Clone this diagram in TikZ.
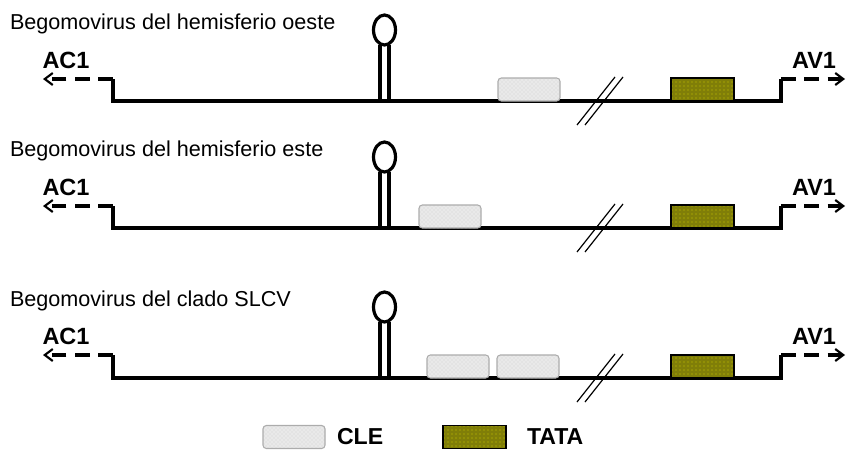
\documentclass[tikz,border=0pt]{standalone}
\usepackage{fontspec}
\setmainfont{Liberation Sans}
\usepackage{tikz}
\usetikzlibrary{arrows.meta,patterns,shapes.geometric}

\definecolor{tataolive}{RGB}{128,126,8}

\begin{document}
\begin{tikzpicture}[x=0.75pt, y=-0.75pt,
    every node/.style={inner sep=0pt, outer sep=0pt},
    genome/.style={line width=2.4pt},
    orf/.style={line width=2.4pt, dash pattern=on 11pt off 6.5pt,
        -{Straight Barb[length=6pt, width=9pt, line width=1.6pt]}},
    stem/.style={line width=2.4pt},
    hairpin/.style={ellipse, draw, line width=2.4pt, minimum width=16.5pt, minimum height=22.5pt},
    brk/.style={line width=0.9pt},
    clebox/.style={draw=gray!65, line width=0.8pt, rounded corners=2.5pt,
        preaction={fill=gray!22}, pattern=crosshatch dots, pattern color=white,
        minimum width=46.5pt, minimum height=17.25pt},
    tatabox/.style={draw=black, line width=0.9pt, preaction={fill=tataolive},
        pattern=dots, pattern color=yellow!60!tataolive,
        minimum width=47.25pt, minimum height=17.25pt},
    title/.style={anchor=base west, font=\fontsize{16.2}{19}\selectfont},
    gene/.style={font=\bfseries\fontsize{17.6}{21}\selectfont},
    key/.style={anchor=west, font=\bfseries\fontsize{17.3}{21}\selectfont}]

    \useasboundingbox (0,0) rectangle (846,450);

    % --- hemisferio oeste
    \node[title] (west) at (10,29) {Begomovirus del hemisferio oeste};
    \coordinate (l1) at (113,101);
    \coordinate (ls1) at (113,79);
    \coordinate (le1) at (43,79);
    \coordinate (r1) at (781,101);
    \coordinate (rs1) at (781,79);
    \coordinate (re1) at (845,79);
    \draw[genome] (ls1) -- (l1) -- (r1) -- (rs1);
    \draw[orf] (ls1) -- (le1);
    \draw[orf] (rs1) -- (re1);
    \node[gene] (ac1) at (66,60) {AC1};
    \node[gene] (av1) at (814,60) {AV1};
    \node[hairpin] (loop1) at (384.5,30) {};
    \draw[stem] ([xshift=-3.4pt]loop1.south) -- ([xshift=-3.4pt]loop1.south |- l1);
    \draw[stem] ([xshift=3.4pt]loop1.south) -- ([xshift=3.4pt]loop1.south |- l1);
    \node[clebox, anchor=south west] (cle1) at (498,101) {};
    \node[tatabox, anchor=south west] (tata1) at (671,101) {};
    \draw[brk] (577,125) -- (615,77);
    \draw[brk] (585,125) -- (623,77);

    % --- hemisferio este
    \node[title] (east) at (10,156) {Begomovirus del hemisferio este};
    \coordinate (l2) at (113,228);
    \coordinate (ls2) at (113,206);
    \coordinate (le2) at (43,206);
    \coordinate (r2) at (781,228);
    \coordinate (rs2) at (781,206);
    \coordinate (re2) at (845,206);
    \draw[genome] (ls2) -- (l2) -- (r2) -- (rs2);
    \draw[orf] (ls2) -- (le2);
    \draw[orf] (rs2) -- (re2);
    \node[gene] (ac2) at (66,187) {AC1};
    \node[gene] (av2) at (814,187) {AV1};
    \node[hairpin] (loop2) at (384.5,157) {};
    \draw[stem] ([xshift=-3.4pt]loop2.south) -- ([xshift=-3.4pt]loop2.south |- l2);
    \draw[stem] ([xshift=3.4pt]loop2.south) -- ([xshift=3.4pt]loop2.south |- l2);
    \node[clebox, anchor=south west] (cle2) at (419,228) {};
    \node[tatabox, anchor=south west] (tata2) at (671,228) {};
    \draw[brk] (577,252) -- (615,204);
    \draw[brk] (585,252) -- (623,204);

    % --- clado SLCV
    \node[title] (slcv) at (10,306) {Begomovirus del clado SLCV};
    \coordinate (l3) at (113,378);
    \coordinate (ls3) at (113,355);
    \coordinate (le3) at (43,355);
    \coordinate (r3) at (781,378);
    \coordinate (rs3) at (781,355);
    \coordinate (re3) at (845,355);
    \draw[genome] (ls3) -- (l3) -- (r3) -- (rs3);
    \draw[orf] (ls3) -- (le3);
    \draw[orf] (rs3) -- (re3);
    \node[gene] (ac3) at (66,336) {AC1};
    \node[gene] (av3) at (814,336) {AV1};
    \node[hairpin] (loop3) at (384.5,307) {};
    \draw[stem] ([xshift=-3.4pt]loop3.south) -- ([xshift=-3.4pt]loop3.south |- l3);
    \draw[stem] ([xshift=3.4pt]loop3.south) -- ([xshift=3.4pt]loop3.south |- l3);
    \node[clebox, anchor=south west] (cle3a) at (427,378) {};
    \node[clebox, anchor=south west] (cle3b) at (497,378) {};
    \node[tatabox, anchor=south west] (tata3) at (671,378) {};
    \draw[brk] (577,402) -- (615,354);
    \draw[brk] (585,402) -- (623,354);

    % --- legend
    \node[clebox, anchor=west] (clekey) at (263,437) {};
    \node[key] (cletext) at (337,437) {CLE};
    \node[tatabox, anchor=west] (tatakey) at (443,437) {};
    \node[key] (tatatext) at (527,437) {TATA};
\end{tikzpicture}
\end{document}
